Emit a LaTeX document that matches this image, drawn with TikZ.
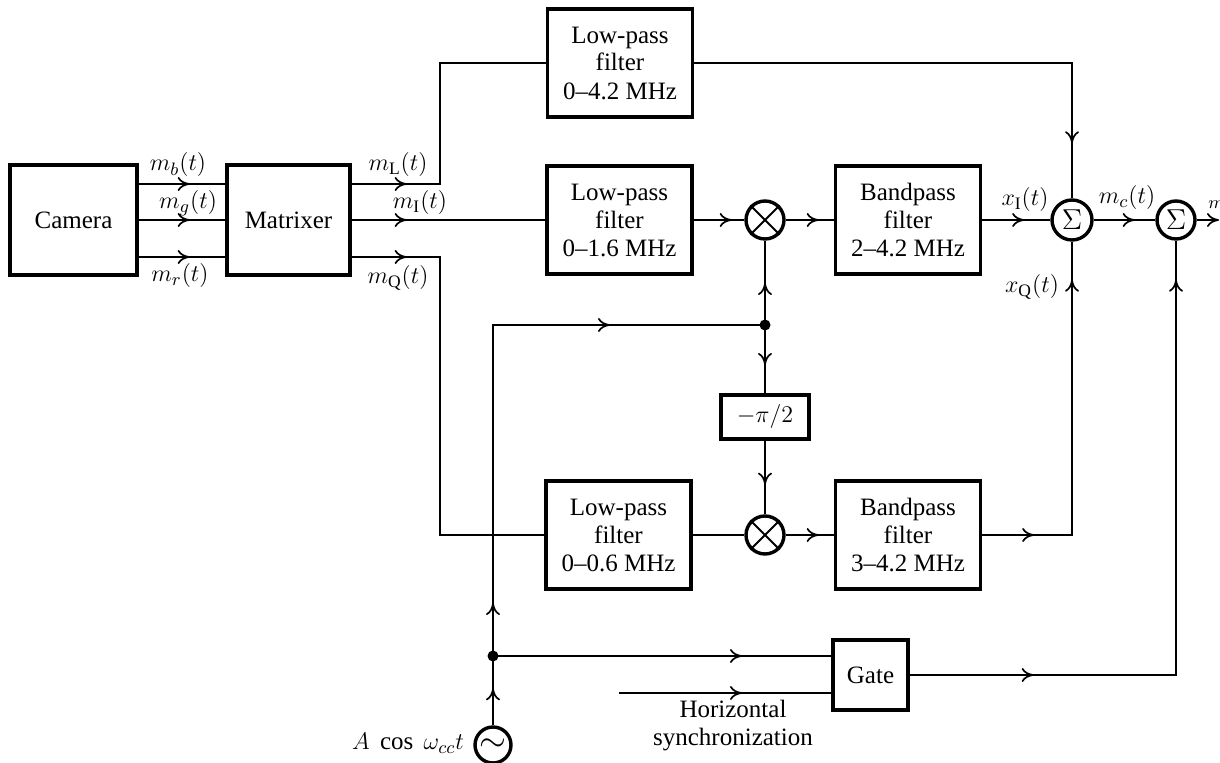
\documentclass[tikz,border=0pt]{standalone}
\usepackage{fontspec}
\setmainfont{Liberation Serif}
\usetikzlibrary{arrows.meta,decorations.markings}
\tikzset{
  blk/.style={draw, line width=1.7pt, minimum width=72.5pt, minimum height=54pt, align=center, inner sep=1pt},
  ln/.style={line width=0.85pt},
  tipx/.tip={To[length=6pt,width=7pt]},
  ma/.style={postaction={decorate, decoration={markings, mark=at position #1 with {\arrow{tipx}}}}},
  crc/.style={draw, circle, line width=1.7pt, minimum size=19pt, inner sep=0pt},
  dotn/.style={circle, fill, inner sep=0pt, minimum size=5.5pt},
  lbl/.style={inner sep=1pt},
}
\begin{document}
\begin{tikzpicture}[x=0.5pt,y=-0.5pt, font=\fontsize{12.5}{14}\selectfont]
\useasboundingbox (0,0) rectangle (1220,763);
\clip (0,0) rectangle (1220,763);
\coordinate (yb) at (0,184);
\coordinate (yr) at (0,257);
% blocks
\node[blk, minimum width=63.5pt, minimum height=55pt] (cam) at (73.5,220) {Camera};
\node[blk, minimum width=61.5pt, minimum height=55pt] (mat) at (288.5,220) {Matrixer};
\node[blk] (lpfL) at (620,63) {Low-pass\\filter\\0--4.2 MHz};
\node[blk] (lpfI) at (619.5,220) {Low-pass\\filter\\0--1.6 MHz};
\node[blk] (bpfI) at (908,220) {Bandpass\\filter\\2--4.2 MHz};
\node[blk] (lpfQ) at (618.5,535) {Low-pass\\filter\\0--0.6 MHz};
\node[blk] (bpfQ) at (908,535) {Bandpass\\filter\\3--4.2 MHz};
\node[crc] (mulI) at (765,220) {};
\node[crc] (mulQ) at (765,535) {};
\draw[line width=0.9pt] (mulI.45) -- (mulI.225) (mulI.135) -- (mulI.-45);
\draw[line width=0.9pt] (mulQ.45) -- (mulQ.225) (mulQ.135) -- (mulQ.-45);
\node[crc, minimum size=20pt] (sum1) at (1072,220) {\fontsize{15}{15}\selectfont$\Sigma$};
\node[crc] (sum2) at (1176,220) {\fontsize{15}{15}\selectfont$\Sigma$};
\node[blk, minimum width=44pt, minimum height=22pt] (ph) at (765,417) {$-\pi/2$};
\node[blk, minimum width=37.5pt, minimum height=35pt] (gate) at (870.5,675) {Gate};
\node[crc, minimum size=18pt] (osc) at (493,745) {\fontsize{18}{18}\selectfont$\sim$};
\node[dotn] (d1) at (765,325) {};
\node[dotn] (d2) at (493,656) {};
\coordinate (sync) at (619,693);
\coordinate (out) at (1219,220);
% connectors
\draw[ln, ma=25.5pt] (cam.east |- yb) -- (mat.west |- yb);
\draw[ln, ma=25.5pt] (cam.east) -- (mat.west);
\draw[ln, ma=25.5pt] (cam.east |- yr) -- (mat.west |- yr);
\draw[ln, ma=27.5pt] (mat.east |- yb) -- (440,184) |- (lpfL.west);
\draw[ln, ma=27.5pt] (mat.east) -- (lpfI.west);
\draw[ln, ma=27.5pt] (mat.east |- yr) -- (440,257) |- (lpfQ.west);
\draw[ln, ma=-27.5pt] (lpfL.east) -| (sum1.north);
\draw[ln, ma=19pt] (lpfI.east) -- (mulI.west);
\draw[ln, ma=16.5pt] (mulI.east) -- (bpfI.west);
\draw[ln, ma=21pt] (bpfI.east) -- (sum1.west);
\draw[ln] (lpfQ.east) -- (mulQ.west);
\draw[ln, ma=16.5pt] (mulQ.east) -- (bpfQ.west);
\draw[ln, ma=26pt, ma=-19pt] (bpfQ.east) -| (sum1.south);
\draw[ln, ma=20.5pt] (sum1.east) -- (sum2.west);
\draw[ln, -tipx] (sum2.east) -- (out);
\draw[ln, ma=62pt, ma=-19.5pt] (gate.east) -| (sum2.south);
\draw[ln, ma=18.5pt] (osc.north) -- (d2.center);
\draw[ln, ma=26.5pt, ma=224pt] (d2.center) |- (d1.center);
\draw[ln, ma=21pt] (d1.center) -- (mulI.south);
\draw[ln, ma=20pt] (d1.center) -- (ph.north);
\draw[ln, ma=22pt] (ph.south) -- (mulQ.north);
\draw[ln, ma=124.5pt] (d2.center) -- (gate.west |- d2);
\draw[ln, ma=61.5pt] (sync) -- (gate.west |- sync);
% labels
\node[lbl] (lb) at (178,165) {$m_b(t)$};
\node[lbl] (lg) at (188,203) {$m_g(t)$};
\node[lbl] (lr) at (180,276) {$m_r(t)$};
\node[lbl] (lL) at (398,165) {$m_{\mathrm{L}}(t)$};
\node[lbl] (lI) at (420,203) {$m_{\mathrm{I}}(t)$};
\node[lbl] (lQ) at (398,278) {$m_{\mathrm{Q}}(t)$};
\node[lbl] (lxI) at (1025,200) {$x_{\mathrm{I}}(t)$};
\node[lbl] (lxQ) at (1032,287) {$x_{\mathrm{Q}}(t)$};
\node[lbl] (lmc) at (1127,198) {$m_c(t)$};
\node[lbl, anchor=west] (lm) at (1206,205) {\small$m$};
\node[lbl] (la) at (408,743) {$A\ \cos\ \omega_{cc}t$};
\node[lbl, align=center] (ls) at (733,726) {Horizontal\\synchronization};
\end{tikzpicture}
\end{document}
